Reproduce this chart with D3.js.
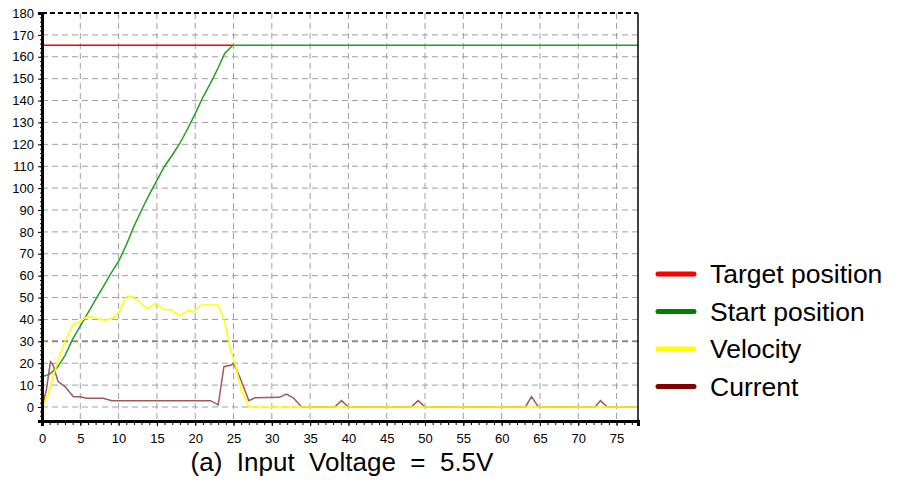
<!DOCTYPE html>
<html>
<head>
<meta charset="utf-8">
<script src="https://cdn.jsdelivr.net/npm/d3@7"></script>
<style>
  body { margin: 0; background: #fff; }
  text { font-family: "Liberation Sans", Arial, sans-serif; }
</style>
</head>
<body>
<div id="chart"></div>
<script>
// series: [time, value]
// (the target line is hidden under the start line once that one reaches it)
var targetPosition = [[0, 165.3], [24.9, 165.3]];

var startPosition = [
  [0, 13.8], [1, 15], [2, 18], [3, 23.5], [4, 31], [5, 37], [6, 43], [7, 49],
  [8, 55], [9, 61], [10, 66.5], [11, 74], [12, 82.5], [13, 90], [14, 97],
  [15, 103.5], [16, 110], [17, 115], [18, 120.5], [19, 127], [20, 134],
  [21, 141.5], [22, 148], [23, 155], [23.85, 161.5], [24.9, 165.3], [77.8, 165.3]
];

var velocity = [
  [0, 0], [0.8, 5.5], [2.1, 21.5], [3, 29.8], [4, 37.4], [4.9, 39], [6, 41.5],
  [7.1, 40.5], [8.2, 39.6], [9.3, 40.5], [10.1, 43.5], [11, 50.4], [11.7, 50.7],
  [12.75, 48], [13.8, 45], [14.9, 47.3], [15.8, 44.6], [16.9, 44.3], [18, 41.7],
  [19.1, 44.3], [19.7, 43.5], [20.8, 46.6], [23, 46.6], [23.85, 39], [24.5, 27.5],
  [25.3, 18.4], [26, 7.8], [27, 0], [77.8, 0]
];

var current = [
  [0, 0], [0.57, 7.8], [1.1, 20.7], [1.45, 19.2], [2.1, 11.6], [3, 9.3],
  [4.1, 4.7], [5, 4.7], [5.8, 4], [8, 4], [9.1, 2.9], [22, 2.9], [23, 1],
  [23.75, 18.4], [24.7, 19.2], [25, 20], [25.8, 13.8], [27, 2.9], [27.8, 4.2],
  [31, 4.4], [31.9, 5.9], [32.8, 4.2], [33.9, 0],
  [38.2, 0], [39.1, 2.9], [40, 0],
  [48.2, 0], [49.1, 2.9], [50, 0],
  [63.1, 0], [63.9, 4.7], [64.8, 0],
  [72.2, 0], [72.9, 2.9], [73.8, 0], [77.8, 0]
];

var seriesNames = ["Target position", "Start position", "Velocity", "Current"];
var seriesLine = ["#ff0000", "#20a020", "#ffff00", "#a05a5a"];
var seriesKey = ["#ff0000", "#008000", "#ffff00", "#800000"];

var xTicks = d3.range(0, 76, 5);
var yTicks = d3.range(0, 181, 10);

var width = 899, height = 480;
var plot = {left: 42, right: 638, top: 13, bottom: 421};

var x = d3.scaleLinear().domain([0, 77.8]).range([plot.left, plot.right]);
var y = d3.scaleLinear().domain([-6.4, 180]).range([plot.bottom, plot.top]);

var svg = d3.select("#chart").append("svg")
    .attr("width", width)
    .attr("height", height);

svg.append("clipPath").attr("id", "clip")
  .append("rect")
    .attr("x", plot.left).attr("y", plot.top)
    .attr("width", plot.right - plot.left)
    .attr("height", plot.bottom - plot.top);

// grid
svg.append("g").selectAll("line")
    .data(yTicks.filter(function(d) { return d < 180; }))
  .enter().append("line")
    .attr("x1", plot.left).attr("x2", plot.right)
    .attr("y1", function(d) { return y(d); })
    .attr("y2", function(d) { return y(d); })
    .attr("stroke", function(d) { return d === 30 ? "#888" : "#a0a0a0"; })
    .attr("stroke-width", function(d) { return d === 30 ? 2 : 1; })
    .attr("stroke-dasharray", "6,4");

svg.append("g").selectAll("line")
    .data(xTicks.filter(function(d) { return d > 0; }))
  .enter().append("line")
    .attr("x1", function(d) { return x(d); })
    .attr("x2", function(d) { return x(d); })
    .attr("y1", plot.top).attr("y2", plot.bottom)
    .attr("stroke", "#a0a0a0")
    .attr("stroke-dasharray", "6,4");

// lines, drawn target, start, current, velocity
var line = d3.line()
    .x(function(d) { return x(d[0]); })
    .y(function(d) { return y(d[1]); });

var allSeries = [targetPosition, startPosition, velocity, current];
var lines = svg.append("g").attr("clip-path", "url(#clip)");
[0, 1, 3, 2].forEach(function(i) {
  lines.append("path")
      .datum(allSeries[i])
      .attr("fill", "none")
      .attr("stroke", seriesLine[i])
      .attr("stroke-width", 1.5)
      .attr("d", line);
});

// frame
svg.append("line")
    .attr("x1", plot.left).attr("x2", plot.right)
    .attr("y1", plot.top).attr("y2", plot.top)
    .attr("stroke", "#000").attr("stroke-width", 2)
    .attr("stroke-dasharray", "5,3");
svg.append("line")
    .attr("x1", plot.right).attr("x2", plot.right)
    .attr("y1", plot.top).attr("y2", plot.bottom)
    .attr("stroke", "#000").attr("stroke-width", 1.5);

// axes
var xAxis = d3.axisBottom(x)
    .tickValues(xTicks)
    .tickSize(5)
    .tickPadding(8);
var xMinor = d3.axisBottom(x)
    .tickValues(d3.range(0, 78, 1))
    .tickSize(4)
    .tickFormat("");

var gxm = svg.append("g")
    .attr("transform", "translate(0," + plot.bottom + ")")
    .call(xMinor);
var gx = svg.append("g")
    .attr("transform", "translate(0," + plot.bottom + ")")
    .call(xAxis);
[gx, gxm].forEach(function(g) {
  g.select(".domain").attr("stroke-width", 3).attr("stroke", "#000");
  g.selectAll(".tick line").attr("stroke", "#000");
});
gx.selectAll("text").style("font-size", "13px").attr("fill", "#000");

var yAxis = d3.axisLeft(y)
    .tickValues(yTicks)
    .tickSize(4)
    .tickPadding(4);
var yMinor = d3.axisLeft(y)
    .tickValues(d3.range(-6, 181, 2))
    .tickSize(2)
    .tickFormat("");

var gym = svg.append("g")
    .attr("transform", "translate(" + plot.left + ",0)")
    .call(yMinor);
var gy = svg.append("g")
    .attr("transform", "translate(" + plot.left + ",0)")
    .call(yAxis);
[gy, gym].forEach(function(g) {
  g.select(".domain").attr("stroke-width", 3).attr("stroke", "#000");
  g.selectAll(".tick line").attr("stroke", "#000");
});
gy.selectAll("text").style("font-size", "13px").attr("fill", "#000");

// caption
svg.append("text")
    .attr("x", (plot.left + plot.right) / 2 + 2)
    .attr("y", 471)
    .attr("text-anchor", "middle")
    .attr("xml:space", "preserve")
    .style("white-space", "pre")
    .style("font-size", "26px")
    .text("(a)  Input  Voltage  =  5.5V");

// legend
var legend = svg.append("g").selectAll("g")
    .data(seriesNames)
  .enter().append("g")
    .attr("transform", function(d, i) { return "translate(658," + (274 + i * 37.5) + ")"; });

legend.append("line")
    .attr("x1", 0).attr("x2", 36)
    .attr("stroke", function(d, i) { return seriesKey[i]; })
    .attr("stroke-width", 5)
    .attr("stroke-linecap", "round");

legend.append("text")
    .attr("x", 52)
    .attr("dy", "0.35em")
    .style("font-size", "26.5px")
    .text(function(d) { return d; });
</script>
</body>
</html>
